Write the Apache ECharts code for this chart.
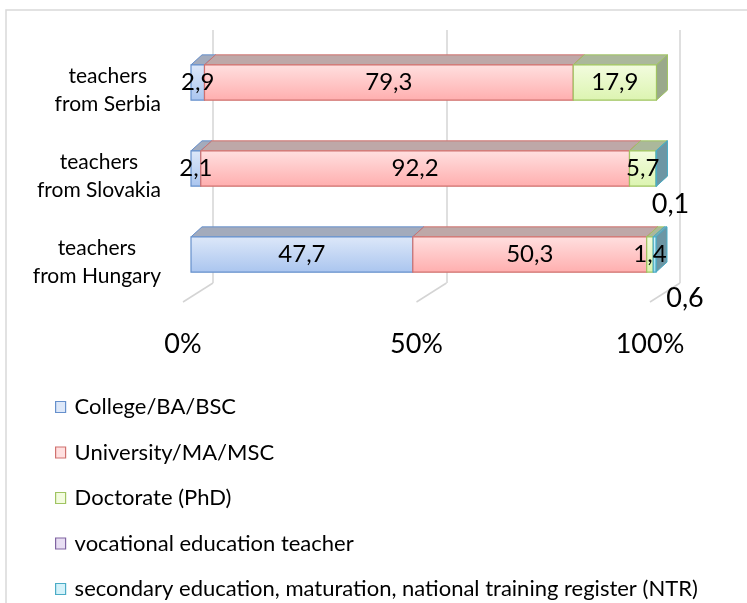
<!DOCTYPE html>
<html><head><meta charset="utf-8">
<script src="https://cdn.jsdelivr.net/npm/echarts@6/dist/echarts.min.js"></script>
<style>html,body{margin:0;padding:0;background:#fff}#c{width:747px;height:603px}</style>
</head><body><div id="c"></div>
<script>
// ---- data ----
const categories = ['teachers\nfrom Serbia', 'teachers\nfrom Slovakia', 'teachers\nfrom Hungary'];
const seriesNames = ['College/BA/BSC', 'University/MA/MSC', 'Doctorate (PhD)', 'vocational education teacher',
  'secondary education, maturation, national training register (NTR)'];
const college = [2.9, 2.1, 47.7];
const university = [79.3, 92.2, 50.3];
const doctorate = [17.9, 5.7, 1.4];
const vocational = [null, null, null];
const secondary = [null, 0.1, 0.6];
const xTicks = [0, 50, 100];

// ---- styles ----
const FONT = 'Lato';
const DX = 11, DY = 10;
const palette = [
  {top: '#dde8f9', bottom: '#aac5ef', border: '#6690cc', cap: '#a3abbc', side: '#8f9cb4'},
  {top: '#ffe0e0', bottom: '#ffaeae', border: '#d0716e', cap: '#bea8a8', side: '#ad9292'},
  {top: '#f3fcdf', bottom: '#dcf4b0', border: '#a0c462', cap: '#abb89b', side: '#9aa98b'},
  {top: '#e8def3', bottom: '#cab8e3', border: '#8064a2', cap: '#a9a1b5', side: '#988ca7'},
  {top: '#d4f2fa', bottom: '#9edbed', border: '#4bacc6', cap: '#7ea9b6', side: '#6d96a4'}
];
const outsideLabelOffset = [[14, 18], [14, 18], [29, 26]]; // label placement for the NTR series (style only)

const seriesValues = [college, university, doctorate, vocational, secondary];
const fmt = v => v.toFixed(1).replace('.', ',');

function buildData(si) {
  const out = [];
  for (let ci = 0; ci < categories.length; ci++) {
    let start = 0;
    for (let k = 0; k < si; k++) start += (seriesValues[k][ci] || 0);
    const v = seriesValues[si][ci];
    if (v == null || v === 0) continue;
    out.push([start, start + v, ci, v]);
  }
  return out;
}

function makeRender(si) {
  return function (params, api) {
    const start = api.value(0), end = api.value(1), ci = api.value(2), v = api.value(3);
    const p0 = api.coord([start, ci]);
    const p1 = api.coord([end, ci]);
    const band = api.size([0, 1])[1];
    const h = band * 0.41;
    const x0 = p0[0], x1 = p1[0], yT = p0[1] - h / 2, yB = p0[1] + h / 2;
    const c = palette[si];
    const children = [
      {type: 'polygon', shape: {points: [[x0, yT], [x1, yT], [x1 + DX, yT - DY], [x0 + DX, yT - DY]]},
        style: {fill: c.cap, stroke: c.border, lineWidth: 1}},
      {type: 'polygon', shape: {points: [[x1, yT], [x1 + DX, yT - DY], [x1 + DX, yB - DY], [x1, yB]]},
        style: {fill: c.side, stroke: c.border, lineWidth: 1}},
      {type: 'rect', shape: {x: x0, y: yT, width: Math.max(x1 - x0, 0.5), height: h},
        style: {fill: {type: 'linear', x: 0, y: 0, x2: 0, y2: 1, colorStops: [{offset: 0, color: c.top}, {offset: 1, color: c.bottom}]},
          stroke: c.border, lineWidth: 1.2}}
    ];
    if (si === 4) {
      const off = outsideLabelOffset[ci];
      children.push({type: 'text', z2: 100, style: {text: fmt(v), x: x1 + off[0], y: yB + off[1],
        align: 'center', verticalAlign: 'middle', fontFamily: FONT, fontSize: 27, fill: '#000'}});
    } else {
      children.push({type: 'text', z2: 100, style: {text: fmt(v), x: (x0 + x1) / 2, y: p0[1],
        align: 'center', verticalAlign: 'middle', fontFamily: FONT, fontSize: 24, fill: '#000'}});
    }
    return {type: 'group', children};
  };
}

const barSeries = seriesNames.map((name, si) => ({
  type: 'custom', name, xAxisIndex: 0, yAxisIndex: 0, clip: false,
  encode: {x: [0, 1], y: 2},
  itemStyle: {color: palette[si].top, borderColor: palette[si].border, borderWidth: 1},
  renderItem: makeRender(si),
  data: buildData(si), z: 3
}));

const floorSeries = {
  type: 'custom', xAxisIndex: 1, yAxisIndex: 1, clip: false, silent: true, z: 1,
  encode: {x: 0},
  renderItem: function (params, api) {
    const p = api.coord([api.value(0), 0]);
    return {type: 'line', shape: {x1: p[0], y1: p[1], x2: p[0] - 30, y2: p[1] + 19},
      style: {stroke: '#d4d4d4', lineWidth: 1.5}};
  },
  data: xTicks.map(v => [v])
};

const chart = echarts.init(document.getElementById('c'), null, {renderer: 'canvas'});
chart.setOption({
  backgroundColor: '#fff',
  animation: false,
  graphic: [{type: 'rect', shape: {x: 6, y: 10, width: 800, height: 700},
    style: {fill: null, stroke: '#d9d9d9', lineWidth: 1.5}, z: -10, silent: true}],
  legend: {
    orient: 'vertical', left: 50, top: 391, width: 690, height: 260, itemGap: 23.5, itemWidth: 10, itemHeight: 11,
    icon: 'rect', selectedMode: false,
    textStyle: {fontFamily: FONT, fontSize: 22, lineHeight: 22, color: '#000', padding: [0, 0, 0, 4]},
    data: seriesNames.map((n, i) => ({name: n, itemStyle: {color: palette[i].top, borderColor: palette[i].border, borderWidth: 1.2}}))
  },
  grid: [
    {left: 191, right: 91, top: 39.5, bottom: 305.5},
    {left: 213, right: 67, top: 30, bottom: 320},
    {left: 183, right: 97, top: 290, bottom: 301}
  ],
  xAxis: [
    {gridIndex: 0, type: 'value', min: 0, max: 100, show: false},
    {gridIndex: 1, type: 'value', min: 0, max: 100, interval: 50,
      axisLine: {show: false}, axisTick: {show: false}, axisLabel: {show: false},
      splitLine: {show: true, lineStyle: {color: '#d4d4d4', width: 1.5}}},
    {gridIndex: 2, type: 'value', min: 0, max: 100, interval: 50,
      axisLine: {show: false}, axisTick: {show: false}, splitLine: {show: false},
      axisLabel: {margin: 29, fontFamily: FONT, fontSize: 27, color: '#000', formatter: '{value}%'}}
  ],
  yAxis: [
    {gridIndex: 0, type: 'category', inverse: true, data: categories,
      axisLine: {show: false}, axisTick: {show: false}, splitLine: {show: false},
      axisLabel: {margin: 30, align: 'right', padding: [16, 0, 0, 0],
        formatter: v => v.split('\n').map(s => '{c|' + s + '}').join('\n'),
        rich: {c: {align: 'center', fontFamily: FONT, fontSize: 21, lineHeight: 28, color: '#000'}}}},
    {gridIndex: 1, type: 'value', min: 0, max: 1, show: false},
    {gridIndex: 2, type: 'value', min: 0, max: 1, show: false}
  ],
  series: [floorSeries].concat(barSeries)
});
</script></body></html>
